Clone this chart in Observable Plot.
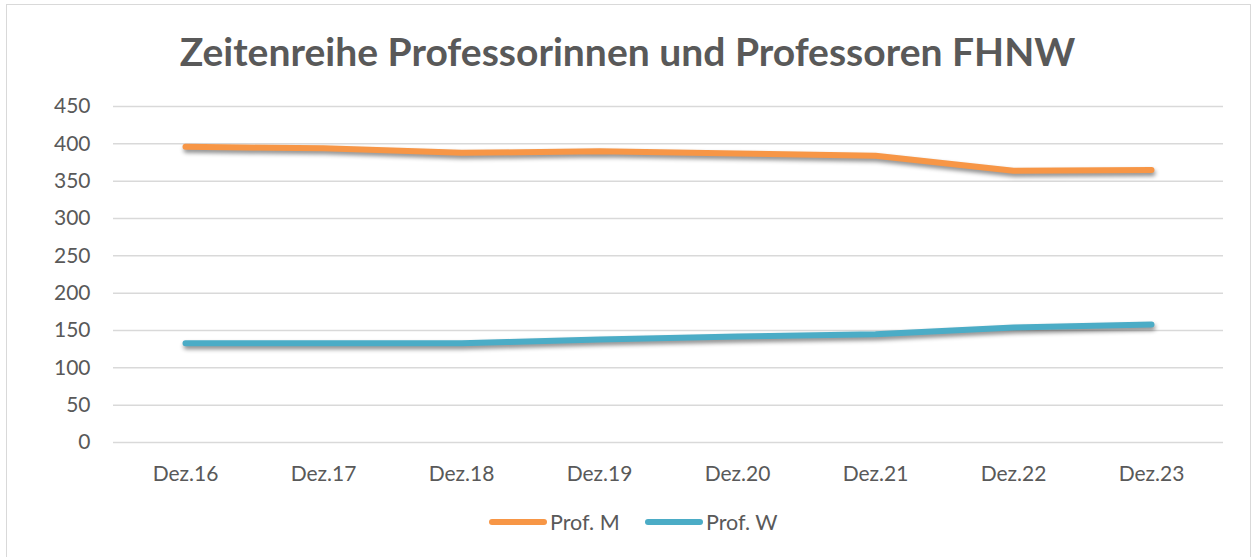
<!DOCTYPE html>
<html>
<head>
<meta charset="utf-8">
<script src="https://cdn.jsdelivr.net/npm/d3@7"></script>
<script src="https://cdn.jsdelivr.net/npm/@observablehq/plot@0.6"></script>
<style>
  html, body { margin: 0; padding: 0; width: 1255px; height: 557px; overflow: hidden; background: #fff; }
  #frame { position: absolute; left: 6px; top: 4px; width: 1245px; height: 600px; border: 1px solid #d9d9d9; box-sizing: border-box; }
  #title { position: absolute; left: 0; top: 27px; width: 1255px; text-align: center; font-family: Lato, "Open Sans", sans-serif; font-weight: bold; color: #595959; white-space: nowrap; }
  #chart { position: absolute; left: 0; top: 90px; }
  #legend { position: absolute; top: 509px; left: 0; width: 1255px; height: 26px; font-family: Lato, sans-serif; font-size: 21.5px; color: #595959; }
  .item { position: absolute; top: 0; height: 26px; display: flex; align-items: center; }
  .sw { width: 58px; height: 6px; border-radius: 3px; margin-right: 3px; }
</style>
</head>
<body>
<div id="frame"></div>
<div id="title"><span id="tspan">Zeitenreihe Professorinnen und Professoren FHNW</span></div>
<div id="chart"></div>
<div id="legend"></div>
<script>
const categories = ["Dez.16", "Dez.17", "Dez.18", "Dez.19", "Dez.20", "Dez.21", "Dez.22", "Dez.23"];
const profM = [396, 394, 388, 390, 387, 384, 364, 365];
const profW = [133, 133, 133, 138, 142, 145, 154, 158];
const seriesNames = ["Prof. M", "Prof. W"];
const seriesColors = ["#F79646", "#4BACC6"];
const yTicks = [0, 50, 100, 150, 200, 250, 300, 350, 400, 450];

// fit title width
const tspan = document.getElementById("tspan");
tspan.style.fontSize = "36px";
const w = tspan.getBoundingClientRect().width;
tspan.style.fontSize = (36 * 896 / w) + "px";

const data = [];
categories.forEach((c, i) => {
  data.push({cat: c, value: profM[i], series: seriesNames[0]});
  data.push({cat: c, value: profW[i], series: seriesNames[1]});
});

const plot = Plot.plot({
  width: 1255,
  height: 410,
  marginLeft: 113,
  marginRight: 32,
  marginTop: 16,
  marginBottom: 58,
  style: { fontFamily: "Lato, sans-serif", fontSize: "21px", color: "#595959", background: "transparent" },
  x: { type: "point", domain: categories, padding: 0.5, label: null, tickSize: 0, tickPadding: 24 },
  y: { domain: [0, 450], ticks: yTicks, label: null, tickSize: 0, tickPadding: 23 },
  color: { domain: seriesNames, range: seriesColors },
  marks: [
    Plot.ruleY(yTicks, { stroke: "#d9d9d9", strokeWidth: 1.5 }),
    Plot.line(data, { x: "cat", y: "value", z: "series", stroke: "series", strokeWidth: 6, strokeLinecap: "round", strokeLinejoin: "round" })
  ]
});
document.getElementById("chart").appendChild(plot);
plot.querySelectorAll('g[aria-label="line"] path').forEach(p => {
  p.style.filter = "drop-shadow(1px 3px 2px rgba(0,0,0,0.45))";
});

const legend = document.getElementById("legend");
const positions = [489, 645];
seriesNames.forEach((n, i) => {
  const item = document.createElement("div");
  item.className = "item";
  item.style.left = positions[i] + "px";
  const sw = document.createElement("div");
  sw.className = "sw";
  sw.style.background = seriesColors[i];
  const t = document.createElement("span");
  t.textContent = n;
  item.appendChild(sw);
  item.appendChild(t);
  legend.appendChild(item);
});
</script>
</body>
</html>
